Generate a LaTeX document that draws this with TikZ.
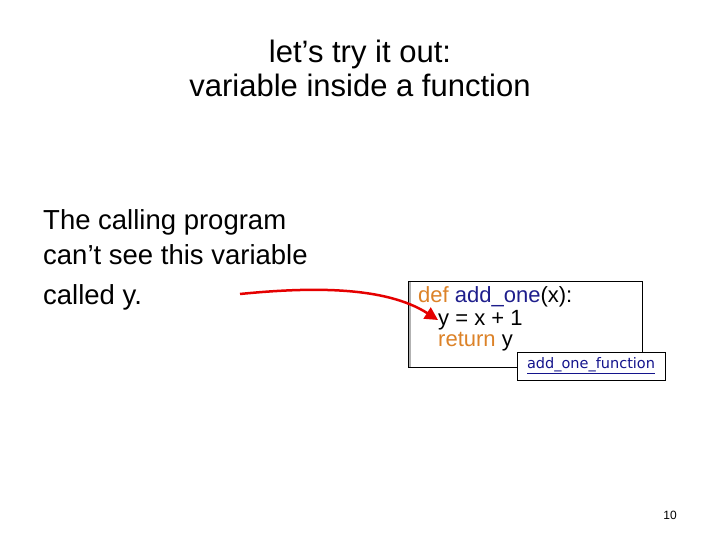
\documentclass[tikz,border=0pt]{standalone}
\usepackage{fontspec}
\setmainfont{Liberation Sans}
\newfontfamily\linkfont{DejaVu Sans}
\usetikzlibrary{arrows.meta}
\definecolor{kworange}{RGB}{220,130,40}
\definecolor{fnblue}{RGB}{30,30,140}
\definecolor{linkblue}{RGB}{20,20,140}
\tikzset{
  codeline/.style={anchor=west,inner sep=0pt,font=\fontsize{22}{24}\selectfont},
  bodyline/.style={anchor=west,inner sep=0pt,font=\fontsize{27.5}{32}\selectfont}
}
\begin{document}
\begin{tikzpicture}[x=1pt,y=-1pt]
  \useasboundingbox (0,0) rectangle (720,540);
  \node[font=\fontsize{31}{34}\selectfont,align=center] (title) at (360,68)
    {let’s try it out:\\variable inside a function};
  \node[bodyline] (l1) at (43,222) {The calling program};
  \node[bodyline] (l2) at (43,255) {can’t see this variable};
  \node[bodyline] (l3) at (43,297) {called y.};
  % code box
  \draw[gray!60,line width=3pt] (409.5,281) -- (409.5,367);
  \draw[black] (408,281) rectangle (642,367);
  \node[codeline] (def) at (418,297)
    {\textcolor{kworange}{def} \textcolor{fnblue}{add\_one}(x):};
  \node[codeline] (body) at (438,320) {y = x + 1};
  \node[codeline] (ret) at (438,342) {\textcolor{kworange}{return} y};
  % link label
  \node[draw,fill=white,inner sep=3pt,minimum width=148pt,minimum height=28pt,
    font=\linkfont\fontsize{14.5}{16}\selectfont,text=linkblue] (link) at (591,366)
    {\underline{add\_one\_function}};
  \draw[red!90!black,line width=2.5pt,-{Triangle[length=13pt,width=13pt]}]
    (240,294) .. controls (310,287) and (385,286) .. (body.west);
  \node[font=\fontsize{12}{14}\selectfont] (page) at (670,515) {10};
\end{tikzpicture}
\end{document}
